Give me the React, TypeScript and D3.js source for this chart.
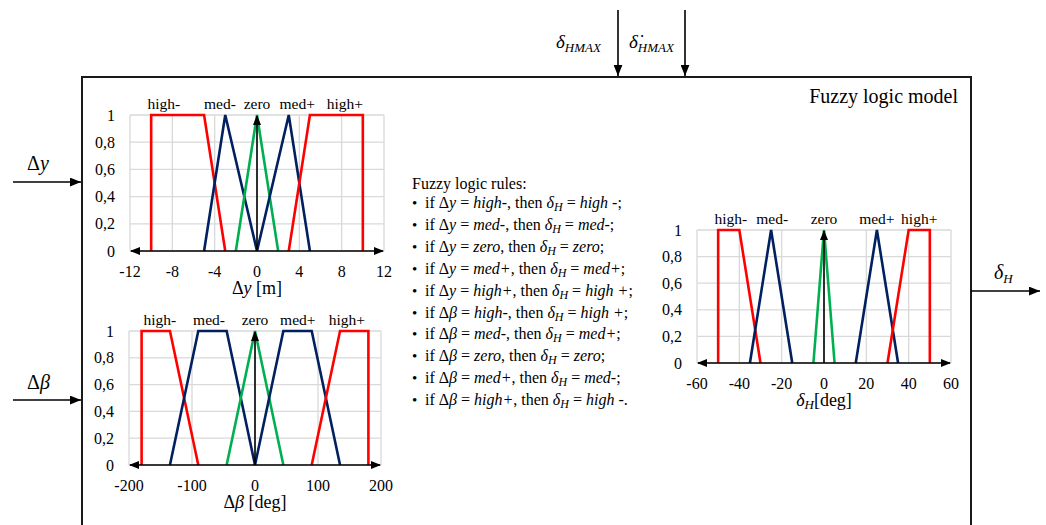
import React from 'react';
import * as d3 from 'd3';

// ---- data ----
const dyTicks = [-12, -8, -4, 0, 4, 8, 12];
const dbTicks = [-200, -100, 0, 100, 200];
const dhTicks = [-60, -40, -20, 0, 20, 40, 60];
const muTicks = [0, 0.2, 0.4, 0.6, 0.8, 1];
const setNames = ['high-', 'med-', 'zero', 'med+', 'high+'];

// membership functions: [value, degree] breakpoints
const dySets: number[][][] = [
  [[-10, 0], [-10, 1], [-5, 1], [-3, 0]],
  [[-5, 0], [-3, 1], [0, 0]],
  [[-2, 0], [0, 1], [2, 0]],
  [[0, 0], [3, 1], [5, 0]],
  [[3, 0], [5, 1], [10, 1], [10, 0]],
];
const dyLabelAt = [-8.8, -3.5, 0, 3.8, 8.3];

const dbSets: number[][][] = [
  [[-180, 0], [-180, 1], [-135, 1], [-90, 0]],
  [[-135, 0], [-90, 1], [-45, 1], [0, 0]],
  [[-45, 0], [0, 1], [45, 0]],
  [[0, 0], [45, 1], [90, 1], [135, 0]],
  [[90, 0], [135, 1], [180, 1], [180, 0]],
];
const dbLabelAt = [-151, -73, 0, 68, 146];

const dhSets: number[][][] = [
  [[-50, 0], [-50, 1], [-40, 1], [-30, 0]],
  [[-35, 0], [-25, 1], [-15, 0]],
  [[-5, 0], [0, 1], [5, 0]],
  [[15, 0], [25, 1], [35, 0]],
  [[30, 0], [40, 1], [50, 1], [50, 0]],
];
const dhLabelAt = [-44, -24.5, 0, 25, 45];

// rule base
const ruleInput = ['y', 'y', 'y', 'y', 'y', 'β', 'β', 'β', 'β', 'β'];
const ruleIf = ['high-', 'med-', 'zero', 'med+', 'high+', 'high-', 'med-', 'zero', 'med+', 'high+'];
const ruleThen = ['high -', 'med-', 'zero', 'med+', 'high +', 'high +', 'med+', 'zero', 'med-', 'high -'];

// ---- style ----
const SERIF = "'Liberation Serif', 'Times New Roman', serif";
const SET_COLORS = ['#ff0000', '#002060', '#00b050', '#002060', '#ff0000'];
const GRID = '#d9d9d9';

type Box = { x0: number; x1: number; y0: number; y1: number };

const fmtMu = (v: number) => (v === 0 || v === 1 ? String(v) : d3.format('.1f')(v).replace('.', ','));

function MembershipChart({
  id, box, domain, ticks, sets, labelAt, title,
}: {
  id: string; box: Box; domain: [number, number]; ticks: number[]; sets: number[][][]; labelAt: number[]; title: React.ReactNode;
}) {
  const x = d3.scaleLinear().domain(domain).range([box.x0, box.x1]);
  const y = d3.scaleLinear().domain([0, 1]).range([box.y1, box.y0]);
  const line = d3.line<number[]>().x((d) => x(d[0])).y((d) => y(d[1]));
  return (
    <g>
      {ticks.map((t) => (
        <line key={'v' + t} x1={x(t)} x2={x(t)} y1={y(0)} y2={y(1)} stroke={GRID} strokeWidth={1.3} />
      ))}
      {muTicks.map((t) => (
        <line key={'h' + t} x1={x(domain[0])} x2={x(domain[1])} y1={y(t)} y2={y(t)} stroke={GRID} strokeWidth={1.3} />
      ))}
      {sets.map((s, i) => (
        <path key={'s' + i} d={line(s) || ''} fill="none" stroke={SET_COLORS[i]} strokeWidth={2.6} strokeLinejoin="miter" />
      ))}
      {/* axes drawn as arrows */}
      <line x1={x(domain[0]) + 1} x2={x(domain[1]) - 1} y1={y(0)} y2={y(0)} stroke="#000" strokeWidth={1.6}
        markerStart={`url(#ah-${id})`} markerEnd={`url(#ah-${id})`} />
      <line x1={x(0)} x2={x(0)} y1={y(0)} y2={y(1) + 1} stroke="#000" strokeWidth={1.6} markerEnd={`url(#ah-${id})`} />
      <defs>
        <marker id={`ah-${id}`} viewBox="0 0 10 8" refX={9} refY={4} markerWidth={10} markerHeight={8}
          markerUnits="userSpaceOnUse" orient="auto-start-reverse">
          <path d="M0,0 L10,4 L0,8 Z" fill="#000" />
        </marker>
      </defs>
      {ticks.map((t) => (
        <text key={'tx' + t} x={x(t)} y={box.y1 + 26} textAnchor="middle" fontSize={16} fontFamily={SERIF}>{t}</text>
      ))}
      {muTicks.map((t) => (
        <text key={'ty' + t} x={box.x0 - 15} y={y(t)} dy="0.35em" textAnchor="end" fontSize={16} fontFamily={SERIF}>{fmtMu(t)}</text>
      ))}
      {setNames.map((n, i) => (
        <text key={'n' + n} x={x(labelAt[i])} y={box.y0 - 6} textAnchor="middle" fontSize={15.5} fontFamily={SERIF}>{n}</text>
      ))}
      <text x={x(0)} y={box.y1 + 43} textAnchor="middle" fontSize={18} fontFamily={SERIF}>{title}</text>
    </g>
  );
}

function Rule({ i, yPos }: { i: number; yPos: number }) {
  const last = i === ruleIf.length - 1;
  return (
    <g fontFamily={SERIF} fontSize={16}>
      <text x={412} y={yPos} fontSize={15}>•</text>
      <text x={425} y={yPos}>
        <tspan>if Δ</tspan>
        <tspan fontStyle="italic">{ruleInput[i]}</tspan>
        <tspan>{' = '}</tspan>
        <tspan fontStyle="italic">{ruleIf[i]}</tspan>
        <tspan>, then </tspan>
        <tspan fontStyle="italic">δ</tspan>
        <tspan fontStyle="italic" fontSize={12} dy={3}>H</tspan>
        <tspan dy={-3}>{'  =  '}</tspan>
        <tspan fontStyle="italic">{ruleThen[i]}</tspan>
        <tspan>{last ? '.' : ';'}</tspan>
      </text>
    </g>
  );
}

export default function App() {
  const W = 1046;
  const H = 525;
  const frame = { left: 82, top: 77, right: 971 };
  return (
    <svg width={W} height={H} style={{ position: 'absolute', left: 0, top: 0, background: '#fff', fontFamily: SERIF }}>
      <defs>
        <marker id="io" viewBox="0 0 10 8" refX={10} refY={4} markerWidth={11} markerHeight={9}
          markerUnits="userSpaceOnUse" orient="auto">
          <path d="M0,0 L10,4 L0,8 Z" fill="#000" />
        </marker>
      </defs>
      {/* model frame */}
      <path d={`M${frame.left},${H + 10} L${frame.left},${frame.top} L${frame.right},${frame.top} L${frame.right},${H + 10}`}
        fill="none" stroke="#1a1a1a" strokeWidth={2} />
      <text x={958} y={103} textAnchor="end" fontSize={20} fontFamily={SERIF}>Fuzzy logic model</text>

      {/* inputs */}
      <line x1={13} x2={frame.left - 1} y1={182} y2={182} stroke="#000" strokeWidth={1.6} markerEnd="url(#io)" />
      <text x={27} y={170} fontSize={20} fontFamily={SERIF}>Δ<tspan fontStyle="italic">y</tspan></text>
      <line x1={13} x2={frame.left - 1} y1={400} y2={400} stroke="#000" strokeWidth={1.6} markerEnd="url(#io)" />
      <text x={27} y={389} fontSize={20} fontFamily={SERIF}>Δ<tspan fontStyle="italic">β</tspan></text>

      {/* limits */}
      <line x1={618} x2={618} y1={10} y2={frame.top - 1} stroke="#000" strokeWidth={1.6} markerEnd="url(#io)" />
      <text x={556} y={48} fontSize={19} fontFamily={SERIF} fontStyle="italic">δ<tspan fontSize={13} dy={4}>HMAX</tspan></text>
      <line x1={685} x2={685} y1={10} y2={frame.top - 1} stroke="#000" strokeWidth={1.6} markerEnd="url(#io)" />
      <text x={629} y={48} fontSize={19} fontFamily={SERIF} fontStyle="italic">{'δ\u0307'}<tspan fontSize={13} dy={4}>HMAX</tspan></text>

      {/* output */}
      <line x1={frame.right} x2={1040} y1={291} y2={291} stroke="#000" strokeWidth={1.6} markerEnd="url(#io)" />
      <text x={994} y={279} fontSize={20} fontFamily={SERIF} fontStyle="italic">δ<tspan fontSize={13} dy={4}>H</tspan></text>

      <MembershipChart id="dy" box={{ x0: 130, x1: 384, y0: 115, y1: 251 }} domain={[-12, 12]} ticks={dyTicks}
        sets={dySets} labelAt={dyLabelAt} title={<>Δ<tspan fontStyle="italic">y</tspan> [m]</>} />
      <MembershipChart id="db" box={{ x0: 129, x1: 381, y0: 331, y1: 465 }} domain={[-200, 200]} ticks={dbTicks}
        sets={dbSets} labelAt={dbLabelAt} title={<>Δ<tspan fontStyle="italic">β</tspan> [deg]</>} />
      <MembershipChart id="dh" box={{ x0: 697, x1: 951, y0: 230, y1: 363 }} domain={[-60, 60]} ticks={dhTicks}
        sets={dhSets} labelAt={dhLabelAt}
        title={<><tspan fontStyle="italic">δ</tspan><tspan fontStyle="italic" fontSize={13} dy={3}>H</tspan><tspan dy={-3}>[deg]</tspan></>} />

      {/* rule base */}
      <text x={412} y={189} fontSize={16} fontFamily={SERIF}>Fuzzy logic rules:</text>
      {ruleIf.map((_, i) => (
        <Rule key={i} i={i} yPos={208 + i * 21.9} />
      ))}
    </svg>
  );
}
